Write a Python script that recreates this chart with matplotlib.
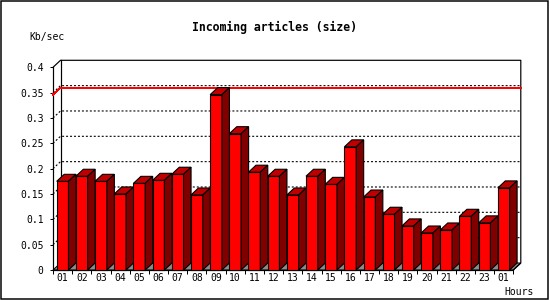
import matplotlib
matplotlib.use("Agg")
import matplotlib.pyplot as plt
from matplotlib.patches import Polygon, Rectangle

# data
hours = ['01', '02', '03', '04', '05', '06', '07', '08', '09', '10', '11', '12',
         '13', '14', '15', '16', '17', '18', '19', '20', '21', '22', '23', '01']
kb_per_sec = [0.175, 0.185, 0.175, 0.150, 0.171, 0.177, 0.189, 0.148,
              0.346, 0.269, 0.193, 0.185, 0.148, 0.185, 0.169, 0.243,
              0.144, 0.110, 0.087, 0.073, 0.079, 0.106, 0.093, 0.162]
y_ticks = [0, 0.05, 0.1, 0.15, 0.2, 0.25, 0.3, 0.35, 0.4]
y_labels = ['0', '0.05', '0.1', '0.15', '0.2', '0.25', '0.3', '0.35', '0.4']

W, H = 550, 300
fig = plt.figure(figsize=(5.5, 3), dpi=100)
mono = 'DejaVu Sans Mono'
PX = 0.72  # one pixel in points

# axes box in pixels (front plane)
left, right, bottom, top = 53, 513.3, 270, 67.3
ax = fig.add_axes([left / W, 1 - bottom / H, (right - left) / W, (bottom - top) / H])
n = len(hours)
ymax = 0.4
ax.set_xlim(0, n)
ax.set_ylim(0, ymax)

# 3d depth offset, converted from pixels to data units
dx = 7.5 / ((right - left) / n)
dy = 7.0 / ((bottom - top) / ymax)

for s in ['top', 'right']:
    ax.spines[s].set_visible(False)
for s in ['left', 'bottom']:
    ax.spines[s].set_linewidth(1.2 * PX)
ax.patch.set_visible(False)

ax.set_yticks(y_ticks)
ax.set_yticklabels(y_labels, family=mono, fontsize=7)
ax.tick_params(axis='y', direction='out', length=3 * PX, width=PX, pad=4.5)
ax.set_xticks(range(n + 1))
ax.set_xticklabels([])
ax.set_xticks([i + 0.5 for i in range(n)], minor=True)
ax.set_xticklabels(hours, minor=True, family=mono, fontsize=7)
ax.tick_params(axis='x', which='major', direction='out', length=4 * PX, width=PX)
ax.tick_params(axis='x', which='minor', length=0, pad=2.5)

# floor
ax.add_patch(Polygon([(0, 0), (n, 0), (n + dx, dy), (dx, dy)], closed=True,
                     fc='#8c8c8c', ec='black', lw=PX, clip_on=False, zorder=1))

# back wall frame
kw = dict(color='black', lw=1.2 * PX, clip_on=False, zorder=2)
ax.plot([0, dx, n + dx, n + dx, n], [ymax, ymax + dy, ymax + dy, dy, 0], **kw)
ax.plot([dx, dx], [dy, ymax + dy], **kw)

# dotted grid on the back wall
for v in y_ticks[1:-1]:
    ax.plot([0, dx, n + dx], [v, v + dy, v + dy], color='black', lw=1.1 * PX,
            ls=(0, (1.8, 1.8)), clip_on=False, zorder=2)

# max line
m = max(kb_per_sec)
ax.plot([0, dx, n + dx], [m, m + dy, m + dy], color='#ff0000', lw=PX,
        antialiased=False, clip_on=False, zorder=3)

# 3d bars
bw = 0.615
ekw = dict(closed=True, ec='black', lw=1.1 * PX, clip_on=False)
for i, v in enumerate(kb_per_sec):
    x0 = i + 0.5 - bw / 2
    x1 = x0 + bw
    z = 4 + i * 0.01
    ax.add_patch(Polygon([(x0, 0), (x1, 0), (x1, v), (x0, v)],
                         fc='#ff0000', zorder=z, **ekw))
    ax.add_patch(Polygon([(x0, v), (x1, v), (x1 + dx, v + dy), (x0 + dx, v + dy)],
                         fc='#c00000', zorder=z, **ekw))
    ax.add_patch(Polygon([(x1, 0), (x1 + dx, dy), (x1 + dx, v + dy), (x1, v)],
                         fc='#800000', zorder=z, **ekw))

fig.text(274.5 / W, 1 - 27 / H, 'Incoming articles (size)', family=mono,
         fontsize=8.3, fontweight='bold', ha='center', va='center')
fig.text(47.5 / W, 1 - 37 / H, 'Kb/sec', family=mono, fontsize=7,
         ha='center', va='center')
fig.text(519 / W, 1 - 292 / H, 'Hours', family=mono, fontsize=7,
         ha='center', va='center')

fig.patches.append(Rectangle((0.5 / W, 0.8 / H), 547.5 / W, 298.5 / H,
                             transform=fig.transFigure, fill=False,
                             ec='black', lw=1.5 * PX))

plt.savefig('out.png', dpi=100)
plt.close()
